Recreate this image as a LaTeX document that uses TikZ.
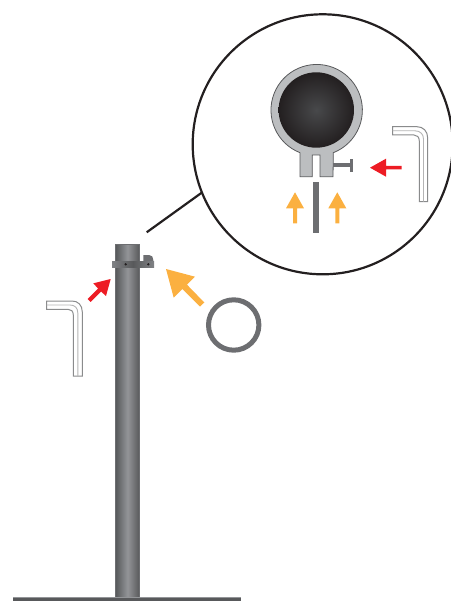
\documentclass[tikz,border=0pt]{standalone}
\definecolor{poledark}{HTML}{58595B}
\definecolor{polelight}{HTML}{939598}
\definecolor{ringgray}{HTML}{6D6E71}
\definecolor{clampgray}{HTML}{808285}
\definecolor{collarfill}{HTML}{BCBEC0}
\definecolor{arroworange}{HTML}{FBB040}
\definecolor{arrowred}{HTML}{ED1C24}
\definecolor{blackish}{HTML}{231F20}
\definecolor{coredark}{HTML}{48494B}
\tikzset{
  polefill/.style={left color=poledark,right color=poledark,middle color=polelight},
  redfill/.style={fill=arrowred,draw=none},
  orangefill/.style={fill=arroworange,draw=none},
  wrenchouter/.style={draw=poledark!70,fill=white,line width=1pt},
  wrenchinner/.style={draw=poledark!45,line width=0.9pt},
}
\begin{document}
\begin{tikzpicture}[x=1pt,y=-1pt]
\useasboundingbox (0,0) rectangle (450,601);
% base and pole
\shade[polefill] (115.7,244.3) rectangle (139.3,598);
\draw[ringgray,line width=0.7pt] (115.7,598) -- (115.7,244.3) -- (139.3,244.3) -- (139.3,598);
\fill[poledark] (13,597.3) rectangle (241,601);
\fill[polelight] (13,597.3) rectangle (241,598);
% clamp
\fill[ringgray] (143.3,262) -- (143.3,255) -- (149,255) .. controls (152,255) and (153.3,257) .. (153.3,260) -- (153.3,262) -- cycle;
\shade[left color=clampgray,right color=clampgray,middle color=poledark] (112,261.8) rectangle (154,267);
\fill[blackish] (125.7,264.3) circle[radius=1.3];
\fill[blackish] (148.3,264.3) circle[radius=1.3];
% left wrench
\draw[wrenchouter] (46.7,301) -- (72,301) .. controls (78,301) and (82.3,305) .. (82.3,312) -- (82.3,376) -- (73.3,376) -- (73.3,315) .. controls (73.3,311) and (71,309.3) .. (68,309.3) -- (46.7,309.3) -- cycle;
\draw[wrenchinner] (46.7,305) -- (70,305) .. controls (75,305) and (77.8,308) .. (77.8,313) -- (77.8,376);
% red arrow left
\path[redfill,fill=arrowred] (110.7,279) -- (93.3,283.3) -- (98,288.5) -- (87.6,298.9) -- (90.6,301.9) -- (101,291.5) -- (106,296) -- cycle;
% orange arrow big
\path[orangefill,fill=arroworange] (166,269) -- (195,276.7) -- (187,284.7) -- (204.3,302.5) -- (200,306.5) -- (182.3,289) -- (173.7,297.7) -- cycle;
% ring
\draw[ringgray,line width=5pt] (233.7,325) circle[radius=25.2];
% callout
\draw[blackish,line width=2.2pt] (322.7,144.3) circle[radius=130];
\draw[blackish,line width=2.2pt] (146.7,232.3) -- (201.7,192.7);
% collar
\draw[poledark,fill=collarfill,line width=0.8pt,line join=miter] (300,176.7) -- (300,152.7) arc[start angle=111.4,end angle=428.6,radius=45.7] -- (333,176.7) -- (320,176.7) -- (320,155) -- (312.3,155) -- (312.3,176.7) -- cycle;
\shade[inner color=coredark,outer color=blackish] (316.3,110) circle[radius=37.7];
% bolt
\fill[ringgray] (333,163.5) rectangle (350,167.5);
\fill[ringgray] (350,159) rectangle (353,171.7);
% plate
\fill[ringgray] (313,181.7) rectangle (319,232.7);
% orange arrows
\path[orangefill,fill=arroworange] (295,192.3) -- (304,208.3) -- (297,208.3) -- (297,223.3) -- (293,223.3) -- (293,208.3) -- (286,208.3) -- cycle;
\path[orangefill,fill=arroworange] (337.3,192.3) -- (346.3,208.3) -- (339.3,208.3) -- (339.3,223.3) -- (335.3,223.3) -- (335.3,208.3) -- (328.3,208.3) -- cycle;
% red arrow right
\path[redfill,fill=arrowred] (370,167.7) -- (386,158.7) -- (386,165.9) -- (401.7,165.9) -- (401.7,169.5) -- (386,169.5) -- (386,176.7) -- cycle;
% right wrench
\draw[wrenchouter] (392.7,126.7) -- (417,126.7) .. controls (423,126.7) and (427.7,131) .. (427.7,138) -- (427.7,201.7) -- (419.3,201.7) -- (419.3,141) .. controls (419.3,137) and (417,135) .. (414,135) -- (392.7,135) -- cycle;
\draw[wrenchinner] (392.7,130.8) -- (415,130.8) .. controls (420,130.8) and (423.5,134) .. (423.5,139) -- (423.5,201.7);
\end{tikzpicture}
\end{document}
